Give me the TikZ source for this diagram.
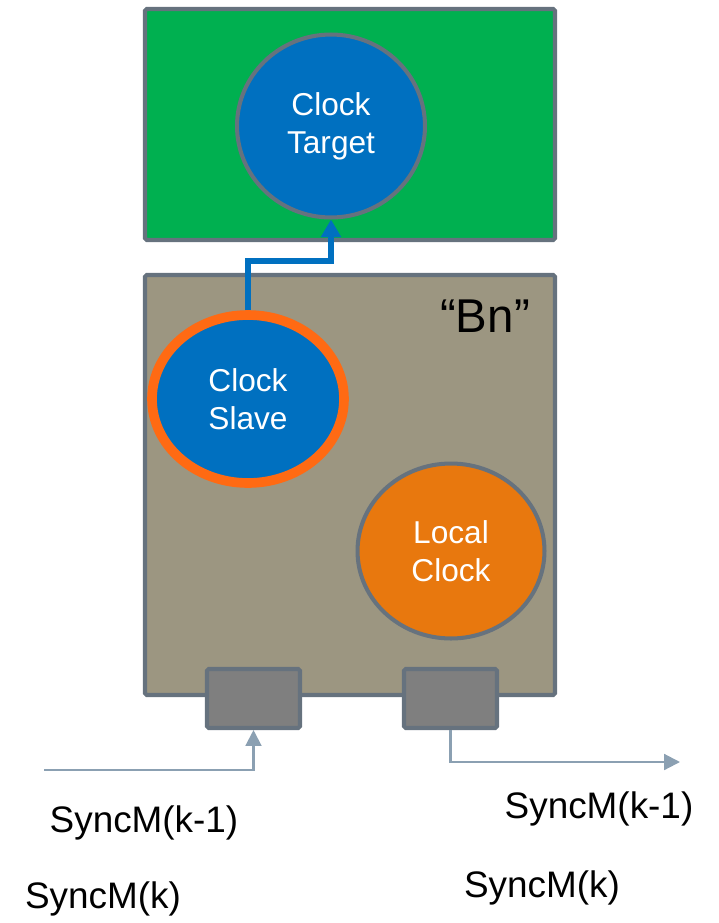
\documentclass[tikz,border=0pt]{standalone}
\usepackage{fontspec}
\setmainfont{Liberation Sans}
\usepackage{xcolor}
\usepackage{tikz}
\usetikzlibrary{arrows.meta,shapes.geometric,positioning}
\definecolor{Frame}{HTML}{66727E}
\definecolor{BoardGreen}{HTML}{00B050}
\definecolor{BoardTan}{HTML}{9C9681}
\definecolor{ClockBlue}{HTML}{0070C0}
\definecolor{RingOrange}{HTML}{FF6A13}
\definecolor{LocalOrange}{HTML}{E8780E}
\definecolor{PortGray}{HTML}{7F7F7F}
\definecolor{Wire}{HTML}{8BA0B2}

\begin{document}
\begin{tikzpicture}[x=0.02cm,y=-0.02cm,>=Latex,
  board/.style={draw=Frame,line width=2.3pt,rounded corners=1pt},
  clock/.style={ellipse,draw=Frame,line width=2.3pt,fill=ClockBlue,text=white,
    align=center,inner sep=0pt,font=\fontsize{18}{21.5}\selectfont},
  port/.style={draw=Frame,line width=2.3pt,fill=PortGray,rounded corners=1pt,
    minimum width=1.86cm,minimum height=1.18cm,inner sep=0pt},
  wire/.style={Wire,line width=1.2pt},
  msg/.style={font=\fontsize{21}{25}\selectfont}]
  \useasboundingbox (0,0) rectangle (718,923);
  % boards
  \draw[board,fill=BoardGreen] (145,9) rectangle (555,240);
  \draw[board,fill=BoardTan] (145,275) rectangle (555,695);
  \node[font=\fontsize{27}{30}\selectfont] (bn) at (485,316) {“Bn”};
  % clocks
  \node[clock,minimum width=3.76cm,minimum height=3.66cm] (target) at (331,126) {Clock\\Target};
  \node[clock,draw=RingOrange,line width=5.5pt,minimum width=3.84cm,minimum height=3.36cm] (slave) at (248,399) {Clock\\Slave};
  \node[clock,fill=LocalOrange,minimum width=3.74cm,minimum height=3.5cm] (local) at (451,551) {Local\\Clock};
  % ports
  \node[port] (portL) at (253.5,698.5) {};
  \node[port] (portR) at (450.5,698.5) {};
  % sync path
  \draw[ClockBlue,line width=3.4pt,-{Triangle[length=10pt,width=11pt]}]
    (slave.north) -- ++(0,-49) -| (target.south);
  \coordinate (inL) at (44,770);
  \coordinate (outR) at (680,762);
  \draw[wire,-{Triangle[length=9pt,width=9pt]}] (inL) -| (portL.south);
  \draw[wire,-{Triangle[length=9pt,width=9pt]}] (portR.south) |- (outR);
  % messages
  \node[msg] (inPrev) at (144,823) {SyncM(k-1)};
  \node[msg] (inCur) at (103,899) {SyncM(k)};
  \node[msg] (outPrev) at (599,809) {SyncM(k-1)};
  \node[msg] (outCur) at (542,888) {SyncM(k)};
\end{tikzpicture}
\end{document}
